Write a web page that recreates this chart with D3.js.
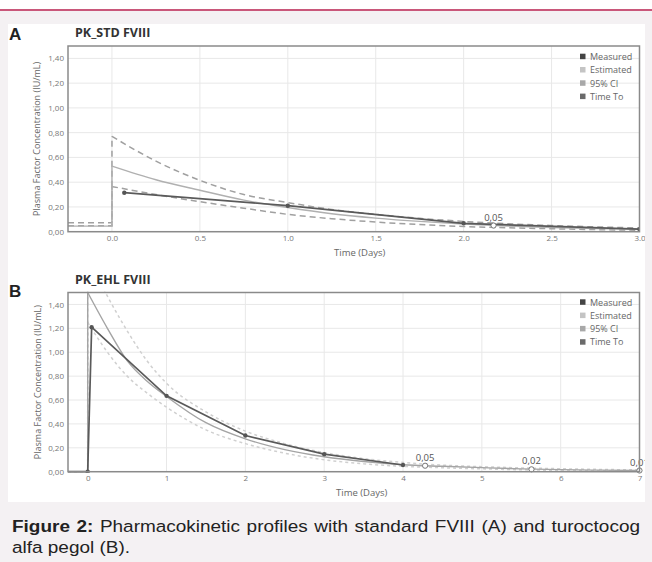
<!DOCTYPE html>
<html><head><meta charset="utf-8">
<script src="https://cdn.jsdelivr.net/npm/d3@7"></script>
<style>
html,body{margin:0;padding:0;background:#fff;}
svg{display:block;}
</style></head>
<body>
<script>
// ---------- DATA ----------
const yTicks = [0, 0.2, 0.4, 0.6, 0.8, 1.0, 1.2, 1.4];
const legendLabels = ["Measured", "Estimated", "95% CI", "Time To"];

// Panel A (standard FVIII)
const aTitle = "PK_STD FVIII";
const aXTicks = [0, 0.5, 1.0, 1.5, 2.0, 2.5, 3.0];
const aMeasTime = [0.07, 1.0, 2.0, 3.0];
const aMeasConc = [0.315, 0.21, 0.068, 0.02];
const aCurveTime  = [-0.25, 0, 0, 0.25, 0.5, 0.75, 1.0, 1.25, 1.5, 1.75, 2.0, 2.25, 2.5, 2.75, 3.0];
const aEstConc    = [0.045, 0.045, 0.53, 0.42, 0.335, 0.255, 0.195, 0.145, 0.11, 0.083, 0.062, 0.046, 0.034, 0.026, 0.019];
const aUpperConc  = [0.072, 0.072, 0.77, 0.57, 0.415, 0.30, 0.235, 0.18, 0.14, 0.108, 0.083, 0.064, 0.05, 0.039, 0.03];
const aLowerConc  = [0.048, 0.048, 0.365, 0.30, 0.242, 0.19, 0.14, 0.105, 0.078, 0.058, 0.042, 0.032, 0.024, 0.017, 0.012];
const aTimeToTime = [2.17];
const aTimeToConc = [0.05];
const aTimeToLabel = ["0,05"];

// Panel B (turoctocog alfa pegol)
const bTitle = "PK_EHL FVIII";
const bXTicks = [0, 1, 2, 3, 4, 5, 6, 7];
const bMeasTime = [-0.25, 0, 0.05, 1, 2, 3, 4];
const bMeasConc = [0, 0, 1.21, 0.635, 0.303, 0.147, 0.056];
const bCurveTime = [-0.25, 0, 0, 0.25, 0.5, 0.75, 1, 1.5, 2, 2.5, 3, 3.5, 4, 4.5, 5, 5.5, 6, 6.5, 7];
const bEstConc   = [0, 0, 1.5, 1.2, 0.93, 0.76, 0.63, 0.41, 0.275, 0.185, 0.125, 0.085, 0.058, 0.045, 0.034, 0.024, 0.017, 0.013, 0.01];
const bUpperConc = [0, 0, 1.8, 1.47, 1.18, 0.93, 0.74, 0.5, 0.34, 0.235, 0.16, 0.11, 0.077, 0.055, 0.042, 0.032, 0.025, 0.019, 0.015];
const bLowerConc = [0, 0, 1.25, 1.0, 0.8, 0.66, 0.54, 0.35, 0.235, 0.155, 0.1, 0.066, 0.045, 0.033, 0.024, 0.016, 0.011, 0.008, 0.006];
const bTimeToTime = [4.28, 5.63, 7.0];
const bTimeToConc = [0.05, 0.02, 0.01];
const bTimeToLabel = ["0,05", "0,02", "0,01"];

const captionBold = "Figure 2:";
const captionLine1 = " Pharmacokinetic profiles with standard FVIII (A) and turoctocog";
const captionLine2 = "alfa pegol (B).";

// ---------- DRAW ----------
const W = 652, H = 562;
const svg = d3.select("body").append("svg").attr("width", W).attr("height", H);

svg.append("rect").attr("x", 0).attr("y", 0).attr("width", W).attr("height", H).attr("fill", "#f4f1f3");
svg.append("rect").attr("x", 0).attr("y", 0).attr("width", W).attr("height", 10).attr("fill", "#ffffff");
svg.append("rect").attr("x", 0).attr("y", 9).attr("width", W).attr("height", 2).attr("fill", "#c9577a");
svg.append("rect").attr("x", 8).attr("y", 24).attr("width", 637).attr("height", 478).attr("fill", "#ffffff");

const defs = svg.append("defs");
defs.append("clipPath").attr("id", "panelClip").append("rect")
  .attr("x", 8).attr("y", 24).attr("width", 637).attr("height", 478);

const fmtY = d => d3.format(".2f")(d).replace(".", ",");

function drawPanel(cfg) {
  const g = svg.append("g").attr("clip-path", "url(#panelClip)");
  const x = d3.scaleLinear().domain(cfg.xDomain).range([cfg.left, cfg.right]);
  const y = d3.scaleLinear().domain([0, 1.5]).range([cfg.bottom, cfg.top]);
  const cid = "plot" + cfg.letter;
  defs.append("clipPath").attr("id", cid).append("rect")
    .attr("x", cfg.left).attr("y", cfg.top - 1)
    .attr("width", cfg.right - cfg.left).attr("height", cfg.bottom - cfg.top + 2);

  // grid
  const grid = g.append("g");
  grid.selectAll("line.h").data(yTicks).join("line")
    .attr("x1", cfg.left).attr("x2", cfg.right)
    .attr("y1", d => y(d)).attr("y2", d => y(d))
    .attr("stroke", "#e8e8e8").attr("stroke-width", 1);
  grid.selectAll("line.v").data(cfg.xTicks).join("line")
    .attr("x1", d => x(d)).attr("x2", d => x(d))
    .attr("y1", cfg.top).attr("y2", cfg.bottom)
    .attr("stroke", "#e8e8e8").attr("stroke-width", 1);

  // axes (labels only, ticks hidden)
  const yAxis = g.append("g").attr("transform", `translate(${cfg.left},0)`)
    .call(d3.axisLeft(y).tickValues(yTicks).tickFormat(fmtY).tickSize(0).tickPadding(4));
  yAxis.select(".domain").remove();
  yAxis.selectAll("text").attr("font-family", "'Open Sans', sans-serif").attr("font-size", 8).attr("fill", "#777");

  const xAxis = g.append("g").attr("transform", `translate(0,${cfg.bottom})`)
    .call(d3.axisBottom(x).tickValues(cfg.xTicks).tickFormat(cfg.xFmt).tickSize(0).tickPadding(4));
  xAxis.select(".domain").remove();
  xAxis.selectAll("text").attr("font-family", "'Open Sans', sans-serif").attr("font-size", 8).attr("fill", "#777");

  // series
  const plot = g.append("g").attr("clip-path", `url(#${cid})`);
  const lineLin = d3.line().x(d => x(d[0])).y(d => y(d[1]));
  const lineSmooth = d3.line().x(d => x(d[0])).y(d => y(d[1])).curve(d3.curveMonotoneX);
  const zip = (t, v) => t.map((d, i) => [d, v[i]]);

  function curve(vals, stroke, width, dash) {
    const pts = zip(cfg.curveTime, vals);
    const pre = pts.slice(0, 3), post = pts.slice(2);
    [[pre, lineLin], [post, lineSmooth]].forEach(([p, gen]) => {
      plot.append("path").datum(p).attr("d", gen)
        .attr("fill", "none").attr("stroke", stroke).attr("stroke-width", width)
        .attr("stroke-dasharray", dash);
    });
  }
  curve(cfg.upper, cfg.ciColor, 1.5, cfg.ciDash);
  curve(cfg.lower, cfg.ciColor, 1.5, cfg.ciDash);
  curve(cfg.est, cfg.estColor, 1.4, null);

  const meas = zip(cfg.measTime, cfg.measConc);
  plot.append("path").datum(meas).attr("d", lineLin)
    .attr("fill", "none").attr("stroke", "#5a5a5a").attr("stroke-width", 1.7);
  plot.selectAll("circle.m").data(meas.slice(cfg.measPointStart)).join("circle")
    .attr("cx", d => x(d[0])).attr("cy", d => y(d[1])).attr("r", 2.2)
    .attr("fill", "#555").attr("stroke", "none");

  // time-to markers
  const tt = zip(cfg.ttTime, cfg.ttConc);
  g.selectAll("circle.tt").data(tt).join("circle")
    .attr("cx", d => x(d[0])).attr("cy", d => y(d[1])).attr("r", 2.6)
    .attr("fill", "#fff").attr("stroke", "#777").attr("stroke-width", 1);
  g.selectAll("text.tt").data(tt).join("text")
    .attr("x", d => x(d[0])).attr("y", d => y(d[1]) - 5)
    .attr("text-anchor", "middle")
    .attr("font-family", "'Open Sans', sans-serif").attr("font-size", 9.5).attr("fill", "#555")
    .text((d, i) => cfg.ttLabel[i]);

  // frame
  g.append("rect").attr("x", cfg.left).attr("y", cfg.top)
    .attr("width", cfg.right - cfg.left).attr("height", cfg.bottom - cfg.top)
    .attr("fill", "none").attr("stroke", "#8a8a8a").attr("stroke-width", 1.5);

  // legend
  const lg = g.append("g");
  legendLabels.forEach((lab, i) => {
    const ly = cfg.legendTop + i * 13.3;
    lg.append("rect").attr("x", 580).attr("y", ly - 3).attr("width", 5.5).attr("height", 5.5)
      .attr("fill", ["#444", "#c4c4c4", "#a8a8a8", "#6a6a6a"][i]);
    lg.append("text").attr("x", 590).attr("y", ly + 3.2)
      .attr("font-family", "'Open Sans', sans-serif").attr("font-size", 9).attr("fill", "#666")
      .text(lab);
  });

  // titles
  g.append("text").attr("x", 9).attr("y", cfg.letterY)
    .attr("font-family", "'Liberation Sans', Arial, sans-serif").attr("font-weight", "bold")
    .attr("font-size", 17).attr("fill", "#222").text(cfg.letter);
  g.append("text").attr("x", 75).attr("y", cfg.titleY)
    .attr("font-family", "'Open Sans', sans-serif").attr("font-weight", "bold")
    .attr("font-size", 12.5).attr("fill", "#333").text(cfg.title);

  // axis titles
  g.append("text").attr("x", (cfg.left + cfg.right) / 2 + cfg.xLabelShift).attr("y", cfg.bottom + 24)
    .attr("text-anchor", "middle")
    .attr("font-family", "'Open Sans', sans-serif").attr("font-size", 9.5).attr("fill", "#666")
    .text("Time (Days)");
  g.append("text")
    .attr("transform", `translate(${cfg.yLabelX},${(cfg.top + cfg.bottom) / 2}) rotate(-90)`)
    .attr("text-anchor", "middle")
    .attr("font-family", "'Open Sans', sans-serif").attr("font-size", 9).attr("fill", "#666")
    .text("Plasma Factor Concentration (IU/mL)");
}

drawPanel({
  letter: "A", letterY: 40, title: aTitle, titleY: 37,
  left: 68, right: 639.5, top: 46, bottom: 231.7,
  xDomain: [-0.25, 3.0], xTicks: aXTicks, xFmt: d3.format(".1f"),
  measTime: aMeasTime, measConc: aMeasConc, measPointStart: 0,
  curveTime: aCurveTime, est: aEstConc, upper: aUpperConc, lower: aLowerConc,
  estColor: "#b0b0b0", ciColor: "#a0a0a0", ciDash: "6,4",
  ttTime: aTimeToTime, ttConc: aTimeToConc, ttLabel: aTimeToLabel,
  legendTop: 56.7, xLabelShift: 6, yLabelX: 40
});

drawPanel({
  letter: "B", letterY: 297, title: bTitle, titleY: 284,
  left: 68, right: 639.5, top: 292.5, bottom: 471.7,
  xDomain: [-0.25, 7], xTicks: bXTicks, xFmt: d3.format("d"),
  measTime: bMeasTime, measConc: bMeasConc, measPointStart: 1,
  curveTime: bCurveTime, est: bEstConc, upper: bUpperConc, lower: bLowerConc,
  estColor: "#a4a4a4", ciColor: "#d0d0d0", ciDash: "3,3",
  ttTime: bTimeToTime, ttConc: bTimeToConc, ttLabel: bTimeToLabel,
  legendTop: 302.3, xLabelShift: 8, yLabelX: 41
});

// caption (slightly wide face; first line justified via word spacing)
const sx = 1.15;
const capG = svg.append("g").attr("transform", `scale(${sx},1)`);
const cap = capG.append("text").attr("x", 12 / sx).attr("y", 532)
  .attr("font-family", "'Liberation Sans', Arial, sans-serif").attr("font-size", 16.5).attr("fill", "#222");
cap.append("tspan").attr("font-weight", "bold").text(captionBold);
cap.append("tspan").text(captionLine1);
const natural = cap.node().getComputedTextLength();
const spaces = (captionBold + captionLine1).split(" ").length - 1;
const extra = (628 / sx - natural) / spaces;
cap.attr("word-spacing", extra);
capG.append("text").attr("x", 12 / sx).attr("y", 553)
  .attr("font-family", "'Liberation Sans', Arial, sans-serif").attr("font-size", 16.5).attr("fill", "#222")
  .text(captionLine2);
</script>
</body></html>
